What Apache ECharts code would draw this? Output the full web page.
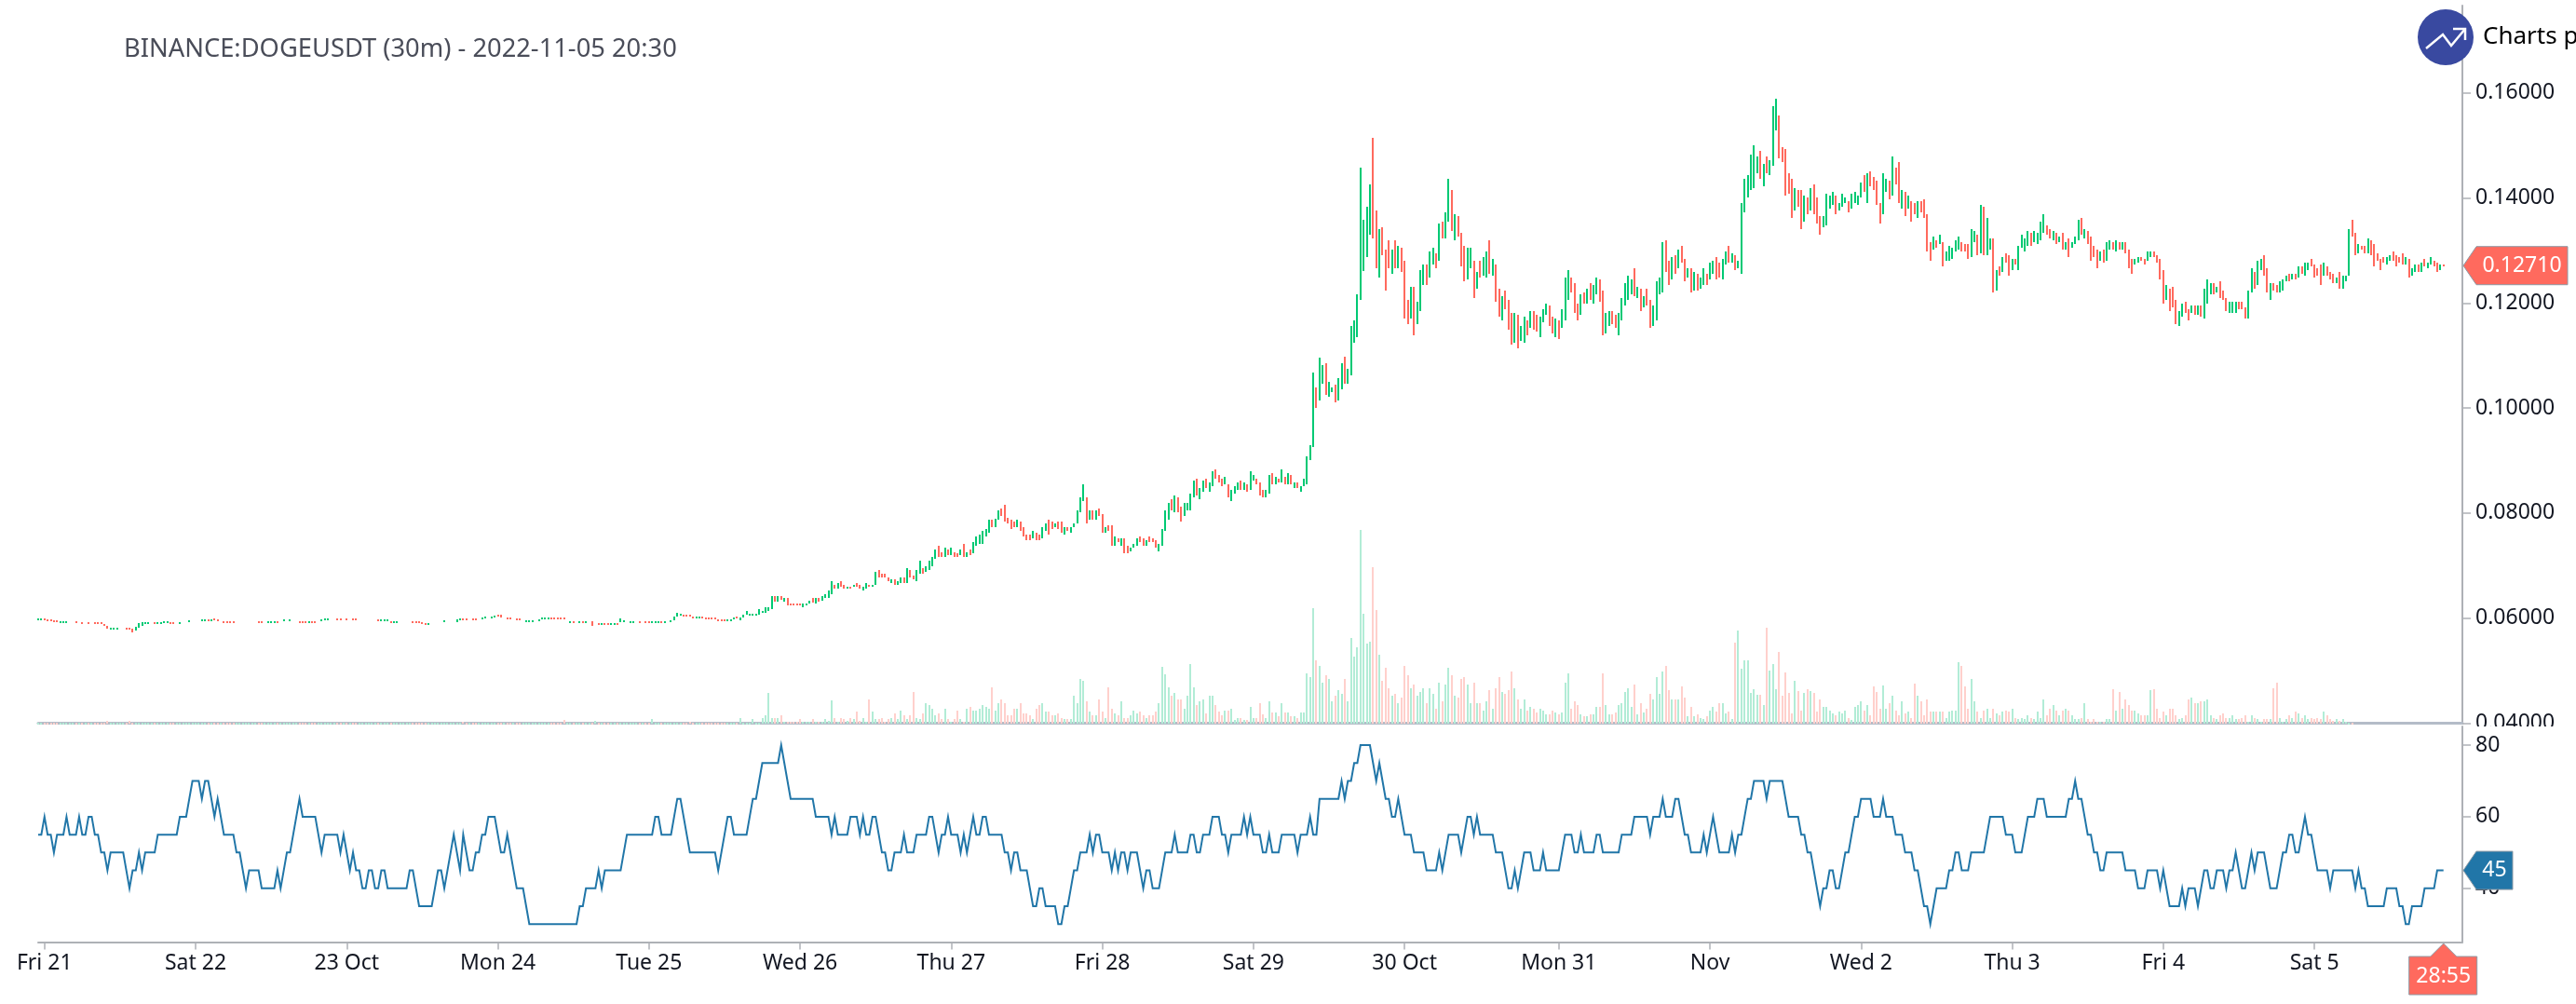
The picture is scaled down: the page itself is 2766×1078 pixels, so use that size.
<!DOCTYPE html>
<html>
<head>
<meta charset="utf-8">
<title>BINANCE:DOGEUSDT (30m)</title>
<script src="https://cdn.jsdelivr.net/npm/echarts@6/dist/echarts.min.js"></script>
<style>
  html, body { margin: 0; padding: 0; background: #fff; overflow: hidden; }
  #chart { width: 2766px; height: 1078px; }
</style>
</head>
<body>
<div id="chart"></div>
<script>
// all values
const TITLE = "BINANCE:DOGEUSDT (30m) - 2022-11-05 20:30";
const SLOTS = 771; // 30 minute slots along the x axis, chart ends a few slots after the last candle

const tickIndex = [2, 50, 98, 146, 194, 242, 290, 338, 386, 434, 483, 531, 579, 627, 675, 723];
const tickLabels = ["Fri 21", "Sat 22", "23 Oct", "Mon 24", "Tue 25", "Wed 26", "Thu 27", "Fri 28", "Sat 29", "30 Oct", "Mon 31", "Nov", "Wed 2", "Thu 3", "Fri 4", "Sat 5"];
const priceTicks = [0.04, 0.06, 0.08, 0.1, 0.12, 0.14, 0.16];
const rsiTicks = [40, 60, 80];
const lastPrice = 0.1271;
const lastRsi = 45;
const countdown = "28:55";

// [open, close] of each 30m bar, in units of 0.0001. open == close: bar too small to show up
const candles = [
[597,600],[597,600],[599,596],[598,595],[598,595],[596,593],[596,593],[592,595],[592,595],[592,595],
[594,594],[594,594],[594,591],[594,594],[593,590],[591,591],[593,590],[591,591],[593,590],[593,590],
[592,589],[588,585],[585,580],[578,581],[578,581],[578,581],[580,580],[580,580],[582,579],[581,578],
[580,572],[576,584],[582,590],[586,592],[590,593],[589,592],[590,590],[592,589],[590,593],[590,593],
[592,595],[591,594],[593,590],[592,589],[592,592],[589,592],[592,592],[592,592],[592,596],[595,595],
[595,595],[595,595],[594,597],[594,597],[597,594],[595,598],[600,597],[598,595],[596,596],[595,592],
[595,592],[595,592],[595,592],[595,595],[595,595],[595,595],[595,595],[595,595],[595,595],[595,595],
[595,592],[595,592],[595,595],[592,595],[592,595],[592,595],[595,592],[595,595],[594,597],[598,598],
[594,597],[598,598],[595,595],[595,592],[595,592],[595,592],[592,595],[595,592],[595,592],[597,597],
[595,598],[596,599],[596,599],[598,598],[598,598],[600,597],[600,597],[598,598],[600,597],[598,598],
[600,597],[600,597],[598,598],[598,598],[598,598],[598,598],[598,598],[598,598],[598,595],[595,598],
[595,598],[595,598],[595,592],[592,595],[592,595],[595,595],[595,595],[595,595],[595,595],[595,592],
[595,592],[594,591],[592,589],[591,588],[587,590],[590,590],[590,590],[590,590],[590,590],[593,596],
[595,595],[595,595],[595,595],[593,598],[596,599],[599,596],[599,596],[600,600],[600,597],[600,597],
[597,597],[598,601],[600,603],[603,603],[600,603],[602,605],[606,603],[606,602],[604,604],[602,599],
[602,599],[599,599],[600,597],[600,597],[597,597],[593,596],[593,596],[593,596],[596,596],[595,598],
[598,601],[598,601],[598,601],[601,598],[601,598],[601,598],[601,598],[601,598],[598,598],[592,595],
[595,592],[595,595],[592,595],[595,592],[592,595],[595,595],[595,586],
[590,590],[590,587],[587,590],[590,587],[590,587],[587,590],[587,590],[590,587],
[593,599],[593,596],[594,594],[591,594],[591,594],[594,594],[594,591],[594,594],[594,591],[594,591],
[591,594],[591,594],[591,594],[594,591],[591,594],[594,594],[593,596],[596,603],[603,610],[605,608],
[606,604],[606,603],[606,603],[603,600],[600,603],[600,603],[603,600],[602,600],[602,600],[601,598],
[602,600],[598,595],[598,595],[598,596],[595,598],[595,598],[598,601],[603,601],[596,602],[602,607],
[606,613],[606,609],[606,609],[606,609],[606,617],[610,613],[610,620],[613,620],[617,642],[642,631],
[631,642],[642,635],[631,638],[638,624],[627,625],[627,625],[628,625],[627,625],[620,628],[624,627],
[628,634],[638,630],[628,638],[638,631],[633,642],[638,645],[638,652],[645,670],[663,656],[656,667],
[670,660],[663,656],[658,660],[660,657],[660,663],[666,660],[663,656],[653,660],[656,667],[663,660],
[660,663],[663,688],[691,677],[684,677],[684,677],[677,670],[667,674],[674,663],[663,670],[667,677],
[677,667],[667,695],[691,677],[681,674],[670,691],[684,709],[695,684],[688,698],[691,709],[699,716],
[713,730],[737,716],[726,716],[716,734],[730,720],[720,734],[726,716],[723,716],[720,730],[741,716],
[716,726],[730,720],[723,745],[737,755],[741,759],[741,766],[755,769],[762,787],[787,773],[773,790],
[787,805],[808,794],[816,784],[791,780],[787,769],[784,773],[773,787],[784,766],[773,755],[759,748],
[759,748],[752,766],[762,748],[759,748],[752,773],[766,780],[787,759],
[784,770],[773,780],
[784,770],[784,763],[759,773],[773,766],[763,773],[773,780],[780,805],[802,830],[823,855],[830,780],
[787,805],[805,787],[787,805],[809,794],[798,763],[763,773],[777,766],[777,738],[738,755],[752,745],
[738,752],[752,724],[738,724],[727,734],[734,741],[738,752],[755,745],[752,738],[738,749],[755,745],
[752,745],[749,734],[727,741],[738,770],[766,805],[787,819],[826,805],[802,833],[830,802],[812,784],
[794,819],[805,819],[805,837],[830,862],[865,833],[826,848],[841,862],[865,848],[841,858],[851,880],
[883,865],[872,858],[865,851],[855,869],[855,830],[823,844],[837,851],[844,858],[862,844],[844,858],
[855,841],[844,880],[862,872],[865,855],[858,833],[844,830],[830,844],[837,872],[876,855],[855,869],
[865,858],[858,883],[869,855],[855,876],[872,855],[848,858],[858,848],[841,851],[851,865],[855,908],
[901,929],[926,1068],[1039,1000],[1014,1096],[1046,1082],[1085,1025],[1021,1050],[1030,1040],[1044,1011],[1015,1057],[1035,1085],
[1098,1046],[1046,1075],[1062,1156],[1124,1167],[1135,1217],[1206,1458],[1260,1358],[1287,1383],[1330,1426],[1514,1323],
[1376,1266],[1248,1341],[1344,1291],[1302,1224],[1319,1266],[1255,1302],[1319,1266],[1266,1309],[1305,1259],[1280,1170],
[1206,1160],[1170,1231],[1231,1138],[1160,1202],[1185,1263],[1234,1273],[1273,1234],[1248,1298],[1273,1305],[1294,1266],
[1280,1351],[1355,1323],[1323,1372],[1355,1436],[1415,1337],[1319,1369],[1365,1326],[1333,1270],[1309,1241],[1245,1305],
[1266,1305],[1280,1209],[1227,1259],[1280,1248],[1252,1287],[1248,1298],[1319,1255],[1252,1284],[1273,1202],[1227,1174],
[1167,1213],[1224,1188],[1206,1149],[1181,1121],[1124,1181],[1177,1114],[1128,1156],[1124,1174],[1167,1138],[1153,1185],
[1185,1149],[1177,1146],[1135,1174],[1163,1188],[1177,1199],[1195,1156],[1174,1142],[1135,1170],[1167,1131],[1153,1188],
[1167,1248],[1206,1263],[1248,1220],[1238,1181],[1199,1167],[1177,1217],[1220,1199],[1199,1227],[1238,1206],[1199,1234],
[1217,1248],[1245,1202],[1224,1138],[1142,1181],[1156,1185],[1185,1160],[1177,1153],[1138,1181],[1167,1209],[1195,1238],
[1206,1252],
[1217,1245],[1266,1213],[1209,1231],[1227,1185],[1192,1213],[1227,1195],[1206,1153],[1156,1195],[1167,1241],[1217,1248],
[1220,1316],[1319,1259],[1280,1234],[1245,1287],[1291,1256],[1266,1302],[1309,1277],[1284,1241],[1248,1266],[1266,1220],
[1224,1259],[1256,1224],[1227,1248],[1234,1266],[1256,1234],[1245,1277],[1256,1280],[1287,1245],[1277,1248],[1245,1284],
[1273,1298],[1309,1277],[1277,1294],[1291,1263],[1266,1280],[1256,1390],[1373,1436],[1401,1443],[1415,1483],[1419,1500],
[1447,1479],[1490,1436],[1422,1465],[1479,1447],[1443,1472],[1461,1575],[1529,1589],[1557,1475],[1497,1468],[1493,1405],
[1447,1408],[1436,1362],[1376,1419],[1415,1383],[1415,1341],[1355,1405],[1401,1369],[1376,1419],[1426,1369],[1401,1351],
[1365,1330],[1344,1365],[1348,1408],[1380,1405],[1387,1412],[1405,1369],[1376,1390],[1383,1408],[1390,1401],[1394,1373],
[1380,1408],[1390,1412],[1387,1405],[1401,1429],[1443,1412],[1390,1447],[1451,1422],[1440,1415],[1433,1387],[1390,1351],
[1369,1447],[1412,1436],[1433,1397],[1405,1479],[1458,1426],[1468,1390],[1380,1415],[1412,1365],[1380,1405],[1394,1355],
[1390,1369],[1362,1394],[1394,1373],[1397,1362],[1369,1298],[1316,1280],[1302,1326],[1319,1305],[1312,1330],[1316,1270],
[1280,1298],[1280,1309],[1284,1305],[1298,1319],[1302,1326],[1316,1298],[1312,1298],[1312,1284],[1287,1341],[1316,1337],
[1330,1291],[1294,1387],[1383,1291],[1291,1362],[1302,1323],
[1323,1220],[1224,1263],[1270,1252],[1259,1287],[1294,1277],[1291,1252],[1263,1284],[1284,1273],[1263,1309],[1305,1330],
[1298,1323],[1309,1337],[1333,1309],[1316,1337],[1312,1333],[1319,1355],[1333,1369],[1348,1330],[1341,1323],[1319,1337],
[1333,1312],[1316,1326],[1333,1301],[1301,1316],[1323,1287],[1305,1316],[1312,1326],[1319,1358],[1362,1330],[1323,1341],
[1337,1312],[1326,1280],[1309,1287],[1301,1266],[1280,1298],[1301,1277],[1280,1316],[1301,1319],[1316,1301],[1298,1319],
[1316,1301],[1301,1316],[1316,1294],[1301,1266],[1284,1255],[1273,1284],[1277,1287],[1287,1280],[1284,1273],[1280,1298],
[1287,1298],[1298,1287],[1291,1277],[1284,1245],[1263,1199],[1206,1234],[1227,1185],[1231,1192],[1206,1160],[1156,1185],
[1174,1199],[1202,1181],[1188,1167],[1181,1195],[1195,1177],[1177,1195],[1195,1174],[1170,1227],[1199,1245],[1216,1238],
[1238,1216],[1220,1231],[1241,1209],[1224,1206],[1209,1185],[1181,1202],[1181,1202],[1181,1202],[1202,1188],[1202,1188],
[1192,1170],[1170,1224],[1220,1266],[1259,1227],[1234,1280],[1263,1284],[1291,1252],[1266,1220],[1206,1238],[1238,1224],
[1234,1220],[1220,1241],[1224,1245],[1241,1252],[1255,1241],[1245,1255],[1255,1245],[1248,1270],[1270,1255],[1252,1277],
[1263,1277],[1284,1270],[1273,1248],[1266,1252],[1273,1234],[1252,1277],[1270,1252],[1259,1245],[1255,1238],[1238,1248],
[1259,1227],[1227,1252],[1241,1252],[1252,1341],[1358,1326],[1333,1291],[1294,1312],[1309,1301],[1309,1294],[1294,1323],
[1319,1291],[1312,1270],[1294,1280],[1284,1263],[1287,1277],[1273,1287],[1280,1291],[1298,1280],[1291,1270],[1287,1277],
[1294,1273],[1273,1287],[1284,1248],[1252,1266],[1259,1273],[1273,1259],[1259,1277],[1284,1270],[1266,1277],[1273,1287],
[1280,1270],[1277,1259],[1263,1273],[1273,1270]
];

// volume bars, read as height in pixels above the pane floor
const volumes = [
1,1,1,1,1,1,1,1,1,1,1,1,1,1,1,1,1,1,1,1,1,1,3,1,1,1,1,1,1,3,
1,1,1,1,1,1,1,1,1,1,1,1,1,1,1,1,1,1,1,1,1,1,1,1,1,1,1,1,1,1,
1,1,1,1,1,1,1,1,1,1,1,1,1,1,1,1,1,1,1,1,1,1,1,1,1,1,1,1,1,1,
1,1,1,1,1,1,1,1,1,1,1,1,1,1,1,1,1,1,1,1,1,1,1,1,1,1,1,1,1,1,
1,1,1,1,1,1,1,1,1,1,1,1,1,1,1,2,1,1,1,1,1,1,1,1,1,1,1,1,1,1,
1,1,1,1,1,1,1,1,1,1,1,1,1,1,1,1,1,4,1,1,1,1,1,1,1,1,1,3,1,1,
1,1,1,1,1,1,1,1,1,1,1,1,1,1,1,5,1,1,1,1,1,1,1,1,1,1,1,2,1,1,
1,1,1,1,1,1,
1,1,1,1,1,1,1,6,1,1,1,5,1,1,6,9,33,6,6,6,9,2,2,2,2,2,5,2,2,2,
5,2,2,2,5,3,25,6,2,6,5,3,6,5,
13,3,6,2,26,13,5,5,6,2,5,6,11,5,14,9,5,9,34,6,5,11,22,20,16,9,11,5,16,5,
2,5,14,5,2,16,18,14,14,16,20,18,16,39,14,22,26,22,9,9,16,16,22,11,11,9,5,16,20,22,
13,13,9,9,11,6,5,5,5,30,22,48,46,24,13,9,9,26,13,6,39,16,11,9,24,6,6,9,14,11,
13,9,6,9,9,13,22,61,53,39,30,33,26,26,16,30,64,39,20,24,26,11,30,30,20,13,9,14,
14,16,4,6,6,4,4,18,6,6,22,10,6,24,12,12,8,22,12,12,8,8,6,12,12,54,50,124,68,62,
44,52,48,24,30,36,32,48,24,92,72,82,208,118,86,88,168,122,74,46,60,38,30,32,22,28,62,52,38,42,
30,34,38,22,38,32,16,44,24,42,60,52,30,28,48,50,42,22,44,22,22,14,24,36,16,38,50,34,32,36,
56,38,26,16,26,14,18,16,12,16,14,10,10,14,12,10,12,44,54,16,24,20,10,8,8,10,10,18,18,54,
20,10,10,12,20,22,34,38,18,42,10,22,12,16,32,26,50,32,56,62,36,26,26,26,40,28,8,18,8,
10,6,5,8,14,18,13,22,22,11,13,5,87,100,59,68,68,33,37,31,31,20,103,57,64,37,77,30,55,33,
11,46,35,14,33,37,35,33,13,26,18,18,14,11,9,13,11,14,6,4,18,20,24,14,20,9,40,34,16,41,
16,22,30,14,9,24,11,13,6,43,30,24,9,26,13,13,13,13,13,6,13,14,14,66,62,40,16,48,24,13,
6,14,16,6,16,11,9,13,14,13,16,6,5,6,5,9,6,5,13,6,26,9,16,20,14,9,14,16,14,9,
5,5,6,22,5,2,5,2,2,2,5,5,37,14,34,16,26,20,14,14,11,9,9,9,36,37,16,6,13,9,
16,16,9,5,6,9,26,28,22,22,24,24,26,9,6,5,9,11,6,6,9,5,5,6,9,2,9,6,5,2,
5,5,5,38,44,6,2,5,9,6,13,11,6,9,5,6,5,6,5,13,9,5,3,5,3,5,2,1,1
];

// RSI moves in steps of 5: [value, last bar index it holds until]
const rsiSteps = [
[55,1],[60,2],[55,4],[50,5],[55,8],[60,9],[55,12],[60,13],[55,15],[60,17],[55,19],[50,21],[45,22],[50,27],[45,28],[40,29],[45,31],[50,32],[45,33],[50,37],
[55,44],[60,47],[65,48],[70,51],[65,52],[70,54],[65,55],[60,56],[65,57],[60,58],[55,62],[50,64],[45,65],[40,66],[45,70],[40,75],[45,76],[40,77],[45,78],[50,80],
[55,81],[60,82],[65,83],[60,88],[55,89],[50,90],[55,95],[50,96],[55,97],[50,98],[45,99],[50,100],[45,102],[40,104],[45,106],[40,108],[45,110],[40,117],[45,119],[40,120],
[35,125],[40,126],[45,128],[40,129],[45,130],[50,131],[55,132],[50,133],[45,134],[55,135],[50,136],[45,138],[50,140],[55,142],[60,145],[55,146],[50,148],[55,149],[50,150],[45,151],
[40,154],[35,155],[30,171],[35,173],[40,177],[45,178],[40,179],[45,185],[50,186],[55,195],[60,197],[55,201],[60,202],[65,204],[60,205],[55,206],[50,215],[45,216],[50,217],[55,218],
[60,220],[55,225],[60,226],[65,228],[70,229],[75,235],[80,236],[75,237],[70,238],[65,246],[60,251],[55,252],[60,253],[55,257],[60,260],
[55,261],[60,262],[55,264],[60,266],[55,267],[50,269],[45,271],[50,274],[55,275],[50,278],[55,282],[60,284],[55,285],[50,286],[55,288],[60,289],[55,292],[50,293],[55,294],[50,295],
[55,296],[60,297],[55,299],[60,301],[55,306],[50,308],[45,309],[50,311],[45,314],[40,315],[35,317],[40,319],[35,323],[30,325],[35,327],[40,328],[45,330],[50,333],[55,334],[50,335],
[55,337],[50,340],[45,341],[50,342],[45,343],[50,345],[45,346],[50,349],[45,350],[40,351],[45,353],[40,356],[45,357],[50,360],[55,361],[50,365],[55,367],[50,369],[55,372],[60,375],
[55,377],[50,378],[55,382],[60,383],[55,384],[60,385],[55,388],[50,390],[55,391],[50,394],[55,399],[50,400],[55,403],[60,404],[55,406],[65,413],[70,414],[65,415],[70,417],[75,419],
[80,423],[75,424],[70,425],[75,426],[70,427],[65,429],[60,431],[65,432],[60,433],[55,436],[50,440],[45,444],[50,445],[45,446],[50,447],[55,451],[50,452],[55,453],[60,455],[55,456],
[60,457],[55,462],[50,465],[45,466],[40,468],[45,469],[40,470],[45,471],[50,474],[45,477],[50,478],[45,483],[50,484],[55,487],[50,489],[55,490],[50,494],[55,496],[50,502],[55,506],
[60,511],[55,512],[60,515],[65,516],[60,519],[65,521],[60,522],[55,524],[50,528],[55,529],[50,530],[55,531],[60,532],
[55,533],[50,537],[55,538],[50,539],[55,541],[60,542],[65,544],[70,548],[65,549],[70,554],[65,555],[60,559],[55,561],[50,563],[45,564],[40,565],[35,566],[40,568],[45,570],[40,572],
[45,573],[50,575],[55,576],[60,578],[65,582],[60,585],[65,586],[60,589],[55,592],[50,595],[45,597],[40,598],[35,600],[30,601],[35,602],[40,606],[45,608],[50,610],[45,613],[50,618],
[55,619],[60,624],[55,627],[50,630],[55,631],[60,634],[65,637],[60,644],[65,646],[70,647],[65,649],[60,650],[55,652],[50,654],[45,656],[50,662],[45,666],[40,669],[45,673],[40,674],
[45,675],[40,676],[35,680],[40,681],[35,682],[40,685],[35,686],[40,687],[45,689],[40,691],[45,694],[40,695],[45,697],[50,698],[45,699],[40,701],[45,702],[50,703],[45,704],[50,707],
[45,708],[40,711],[45,712],[50,714],[55,716],[50,718],[55,719],[60,720],[55,722],[50,723],[45,727],[40,728],[45,735],[40,736],[45,737],[40,739],[35,745],[40,749],[35,751],[30,753],
[35,757],[40,761],[45,764]
];

const rsiValues = [];
rsiSteps.forEach(([value, last]) => {
  while (rsiValues.length <= last) rsiValues.push(value);
});
rsiValues.length = candles.length;

const categories = [];
for (let i = 0; i < SLOTS; i++) {
  const at = tickIndex.indexOf(i);
  categories.push(at >= 0 ? tickLabels[at] : "");
}
const isTick = (i) => tickIndex.includes(i);

const UP = "#00c974";
const DOWN = "#ff6a5e";
const UP_VOL = "#b2ecd6";
const DOWN_VOL = "#ffd0cc";
const RSI_BLUE = "#2176a8";
const AXIS = "#aeb1b6";
const INK = "#131722";
const FONT = '"Noto Sans"';

const candleData = candles.map(([o, c], i) => [i, o / 10000, c / 10000]);
const volumeData = volumes.map((v, i) => [i, v, candles[i] && candles[i][1] >= candles[i][0] ? 1 : 0]);

// both bar kinds are 2px wide and snapped to whole pixels, at this width the
// stock series blur across three pixel columns
function pixelBar(api, from, to, fill) {
  const a = api.coord([api.value(0), from]);
  const b = api.coord([api.value(0), to]);
  const top = Math.round(Math.min(a[1], b[1]));
  const bottom = Math.round(Math.max(a[1], b[1]));
  return {
    type: "rect",
    shape: { x: Math.round(a[0]) - 1, y: top, width: 2, height: Math.max(bottom - top, 2) },
    style: { fill: fill },
  };
}

function renderVolume(params, api) {
  return pixelBar(api, 0, api.value(1), api.value(2) ? UP_VOL : DOWN_VOL);
}

function renderCandle(params, api) {
  const open = api.value(1);
  const close = api.value(2);
  if (open === close) return null;
  return pixelBar(api, open, close, close > open ? UP : DOWN);
}

const chart = echarts.init(document.getElementById("chart"), null, { renderer: "canvas" });

chart.setOption({
  animation: false,
  backgroundColor: "#fff",
  textStyle: { fontFamily: FONT },
  grid: [
    { left: 41, right: 122, top: 6, height: 770.5 },
    { left: 41, right: 122, top: 780, height: 231.5 },
  ],
  xAxis: [
    {
      type: "category", gridIndex: 0, data: categories, boundaryGap: false,
      axisLine: { lineStyle: { color: "#b4bcc8", width: 3 } },
      axisTick: { show: false }, axisLabel: { show: false }, splitLine: { show: false },
    },
    {
      type: "category", gridIndex: 1, data: categories, boundaryGap: false,
      axisLine: { lineStyle: { color: AXIS, width: 2 } },
      axisTick: { interval: isTick, length: 8, lineStyle: { color: AXIS, width: 1.5 } },
      axisLabel: { interval: isTick, color: INK, fontSize: 23, margin: 11, hideOverlap: false },
      splitLine: { show: false },
    },
  ],
  yAxis: [
    {
      type: "value", gridIndex: 0, position: "right", min: 0.04, max: 0.1766, scale: true,
      axisLine: { show: true, lineStyle: { color: AXIS, width: 2 } },
      axisTick: { show: true, length: 9, customValues: priceTicks, lineStyle: { color: AXIS, width: 1.5 } },
      axisLabel: { color: INK, fontSize: 23, margin: 14, customValues: priceTicks, formatter: (v) => v.toFixed(5) },
      splitLine: { show: false },
    },
    { type: "value", gridIndex: 0, show: false, min: 0, max: 770.5, splitLine: { show: false } },
    {
      type: "value", gridIndex: 1, position: "right", min: 25, max: 85.2,
      axisLine: { show: true, lineStyle: { color: AXIS, width: 2 } },
      axisTick: { show: true, length: 9, customValues: rsiTicks, lineStyle: { color: AXIS, width: 1.5 } },
      axisLabel: { color: INK, fontSize: 23, margin: 14, customValues: rsiTicks },
      splitLine: { show: false },
    },
  ],
  series: [
    {
      type: "custom", xAxisIndex: 0, yAxisIndex: 1, data: volumeData, renderItem: renderVolume, z: 1,
      encode: { x: 0, y: 1 }, progressive: 0,
    },
    {
      type: "custom", xAxisIndex: 0, yAxisIndex: 0, data: candleData, renderItem: renderCandle, z: 2,
      encode: { x: 0, y: [1, 2] }, progressive: 0,
    },
    {
      type: "line", xAxisIndex: 1, yAxisIndex: 2, data: rsiValues, showSymbol: false, symbol: "none",
      lineStyle: { color: RSI_BLUE, width: 2, join: "miter", miterLimit: 10 },
    },
  ],
});

// price tag pointing left at a y axis value
function sideTag(y, w, h, color, text) {
  const x = 2645;
  return [
    {
      type: "polygon", z: 50,
      shape: { points: [[x, y], [x + 14, y - h / 2], [x + w, y - h / 2], [x + w, y + h / 2], [x + 14, y + h / 2]] },
      style: { fill: color, stroke: "#8d9aa5", lineWidth: 1 },
    },
    {
      type: "text", z: 51, x: x + 14 + (w - 14) / 2, y: y,
      style: { text: text, fill: "#fff", font: "23px " + FONT, align: "center", verticalAlign: "middle" },
    },
  ];
}

function drawOverlays() {
  const priceY = chart.convertToPixel({ yAxisIndex: 0 }, lastPrice);
  const rsiY = chart.convertToPixel({ yAxisIndex: 2 }, lastRsi);
  const lastX = chart.convertToPixel({ xAxisIndex: 1 }, candles.length - 1);
  chart.setOption({
    graphic: [
      // the price pane clips its lowest label
      { type: "rect", z: 40, shape: { x: 2650, y: 780, width: 116, height: 8 }, style: { fill: "#fff" } },
      {
        type: "text", z: 40, x: 133, y: 53,
        style: { text: TITLE, fill: "#4a4d59", font: "27.3px " + FONT, verticalAlign: "middle" },
      },
      { type: "circle", z: 60, shape: { cx: 2626, cy: 40, r: 30 }, style: { fill: "#3949a0" } },
      {
        type: "polyline", z: 61,
        shape: { points: [[2605, 52], [2623, 37], [2632, 49], [2647, 31]] },
        style: { fill: null, stroke: "#fff", lineWidth: 2.5 },
      },
      {
        type: "polyline", z: 61,
        shape: { points: [[2634, 31], [2647, 31], [2647, 43]] },
        style: { fill: null, stroke: "#fff", lineWidth: 2.5 },
      },
      {
        type: "text", z: 61, x: 2666, y: 40,
        style: { text: "Charts p", fill: "#000", font: "26px " + FONT, verticalAlign: "middle" },
      },
      ...sideTag(priceY, 112, 41, DOWN, lastPrice.toFixed(5)),
      ...sideTag(rsiY, 53, 41, RSI_BLUE, String(lastRsi)),
      {
        type: "polygon", z: 50,
        shape: { points: [[lastX, 1013], [lastX + 14, 1027], [lastX + 36, 1027], [lastX + 36, 1068], [lastX - 37, 1068], [lastX - 37, 1027], [lastX - 14, 1027]] },
        style: { fill: DOWN, stroke: "#8d9aa5", lineWidth: 1 },
      },
      {
        type: "text", z: 51, x: lastX, y: 1048,
        style: { text: countdown, fill: "#fff", font: "23px " + FONT, align: "center", verticalAlign: "middle" },
      },
    ],
  });
}
drawOverlays();
</script>
</body>
</html>
